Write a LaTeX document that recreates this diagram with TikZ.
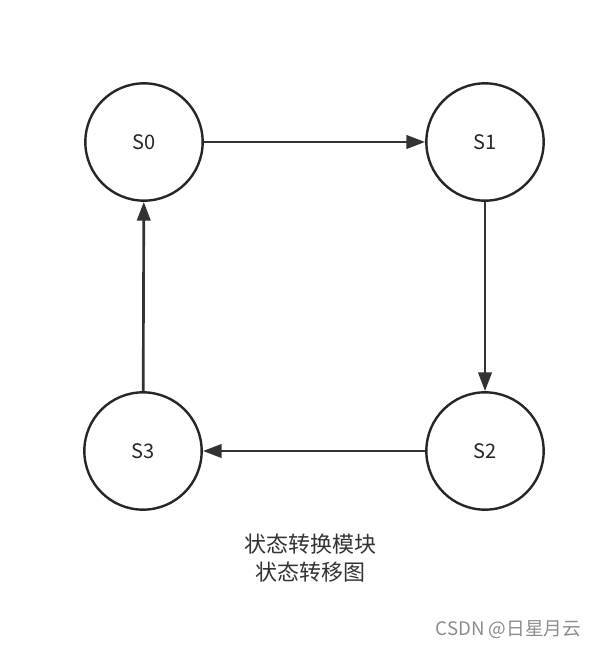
\documentclass[tikz,border=0pt]{standalone}
\usepackage{fontspec}
\setmainfont{Noto Sans CJK SC}
\usetikzlibrary{arrows.meta}
\begin{document}
\begin{tikzpicture}[x=0.75pt,y=-0.75pt,
  state/.style={draw=black!85,line width=1.8pt,circle,minimum size=88pt,inner sep=0pt,font=\fontsize{15}{18}\selectfont,text=black!85},
  conn/.style={draw=black!80,line width=2pt,-{Triangle[length=14pt,width=10pt]}}]
\useasboundingbox (0,0) rectangle (600,648);
\node[state] (s0) at (144,142) {S0};
\node[state] (s1) at (485,142) {S1};
\node[state] (s2) at (485,451) {S2};
\node[state] (s3) at (143,451) {S3};
\draw[conn] (s0) -- (s1);
\draw[conn] (s1) -- (s2);
\draw[conn] (s2) -- (s3);
\draw[conn] (s3) -- (s0);
\node[align=center,font=\fontsize{16.5}{20.5}\selectfont,text=black!80] (cap) at (310,558) {状态转换模块\\状态转移图};
\node[font=\fontsize{14}{16}\selectfont,text=black!45,anchor=east] (wm) at (586,630) {CSDN @日星月云};
\end{tikzpicture}
\end{document}
